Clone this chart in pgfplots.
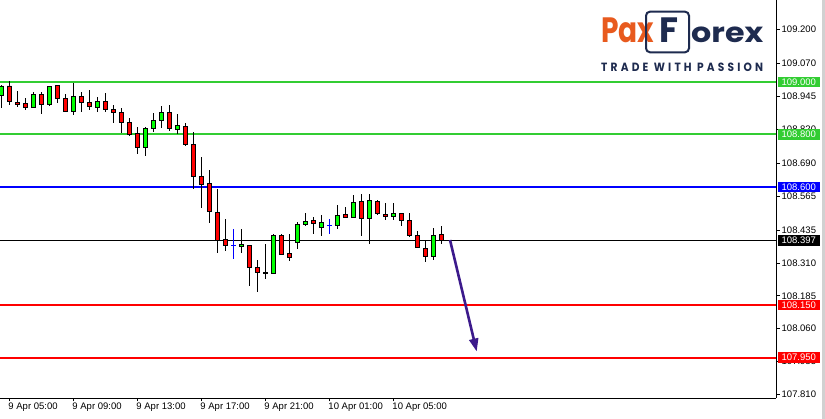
\documentclass[border=0pt]{standalone}
\usepackage{fontspec}
\setmainfont{Liberation Sans}
\newfontfamily\logofont{Poppins}
\usepackage{pgfplots}
\pgfplotsset{compat=1.18}
\usepackage{pgfplotstable}
\usetikzlibrary{arrows.meta}

\definecolor{lvlgreen}{HTML}{32CD32}
\definecolor{upgreen}{HTML}{00FF00}
\definecolor{dnred}{HTML}{FF0000}
\definecolor{lvlblue}{HTML}{0000FF}
\definecolor{arrowpurple}{HTML}{3C1A8C}
\definecolor{paxorange}{HTML}{E85A1E}
\definecolor{paxnavy}{HTML}{1E2B4F}

% 30 min candles, k = half hours after 9 Apr 05:00
\pgfplotstableread{
k  o       h       l       c
-1 108.949 108.989 108.903 108.985
0  108.985 109.004 108.915 108.925
1  108.923 108.966 108.906 108.915
2  108.919 108.942 108.895 108.903
3  108.903 108.961 108.903 108.953
4  108.953 108.964 108.879 108.915
5  108.915 108.983 108.907 108.983
6  108.987 108.990 108.923 108.938
7  108.938 108.953 108.888 108.888
8  108.888 108.996 108.876 108.945
9  108.945 108.964 108.887 108.923
10 108.923 108.970 108.892 108.907
11 108.903 108.942 108.884 108.926
12 108.926 108.957 108.888 108.896
13 108.896 108.911 108.846 108.884
14 108.884 108.901 108.807 108.846
15 108.846 108.862 108.793 108.801
16 108.804 108.827 108.727 108.751
17 108.751 108.831 108.719 108.823
18 108.823 108.884 108.811 108.854
19 108.854 108.911 108.827 108.884
20 108.884 108.911 108.812 108.823
21 108.820 108.877 108.804 108.835
22 108.831 108.846 108.755 108.763
23 108.763 108.812 108.595 108.641
24 108.641 108.717 108.519 108.610
25 108.614 108.667 108.464 108.507
26 108.503 108.592 108.350 108.398
27 108.401 108.478 108.357 108.378
29 108.374 108.440 108.350 108.382
30 108.378 108.378 108.224 108.294
31 108.294 108.321 108.199 108.275
32 108.274 108.383 108.248 108.272
33 108.271 108.420 108.271 108.416
34 108.416 108.420 108.340 108.343
35 108.347 108.420 108.317 108.332
36 108.389 108.465 108.363 108.458
37 108.458 108.500 108.454 108.469
38 108.473 108.484 108.420 108.462
39 108.446 108.496 108.416 108.465
41 108.454 108.530 108.439 108.492
42 108.496 108.526 108.484 108.484
43 108.484 108.572 108.484 108.542
44 108.545 108.572 108.412 108.481
45 108.481 108.572 108.385 108.549
46 108.545 108.549 108.492 108.500
47 108.496 108.542 108.477 108.488
48 108.488 108.542 108.477 108.500
49 108.500 108.503 108.450 108.473
50 108.473 108.500 108.412 108.416
51 108.416 108.435 108.370 108.370
52 108.366 108.397 108.317 108.336
53 108.336 108.443 108.324 108.416
54 108.420 108.450 108.385 108.397
}\candles

% doji candles (drawn in blue)
\pgfplotstableread{
k  p       h       l
28 108.378 108.440 108.324
40 108.454 108.477 108.420
}\dojis

\pgfplotsset{
  chartframe/.style={
    scale only axis, width=776pt, height=398pt,
    at={(0,0)}, anchor=south west,
    xmin=-1.1625, xmax=95.84, ymin=107.796, ymax=109.3124,
  },
}
\tikzset{
  lvl/.style={anchor=west, inner sep=0pt, minimum width=42pt,
    minimum height=10.5pt, text=white, xshift=1.5pt},
}

\begin{document}
\begin{tikzpicture}[font=\fontsize{9.5}{10}\selectfont]
\path[use as bounding box, fill=white] (0,-21pt) rectangle (825pt,398pt);
\fill[black!18] (822pt,-21pt) rectangle (825pt,398pt);

% levels, wicks, axis
\begin{axis}[chartframe,
  axis x line*=bottom, axis y line*=right,
  axis line style={-, black, line width=0.8pt},
  tick align=outside, major tick length=3.5pt,
  tick style={black, line width=0.8pt},
  xtick={0,8,16,24,32,40,48},
  xticklabels={9 Apr 05:00,9 Apr 09:00,9 Apr 13:00,9 Apr 17:00,9 Apr 21:00,10 Apr 01:00,10 Apr 05:00},
  xticklabel style={anchor=north west, inner sep=0pt, xshift=-1pt, yshift=-1pt},
  ytick={107.810,107.935,108.060,108.185,108.310,108.435,108.565,108.690,108.820,108.945,109.070,109.200},
  yticklabels={107.810,107.935,108.060,108.185,108.310,108.435,108.565,108.690,108.820,108.945,109.070,109.200},
  yticklabel style={anchor=west, inner sep=0pt, xshift=2pt},
]
\addplot[lvlgreen, line width=2pt] coordinates {(-1.1625,109.0) (95.84,109.0)};
\addplot[lvlgreen, line width=2pt] coordinates {(-1.1625,108.8) (95.84,108.8)};
\addplot[lvlblue, line width=2pt] coordinates {(-1.1625,108.6) (95.84,108.6)};
\addplot[black, line width=0.8pt] coordinates {(-1.1625,108.397) (95.84,108.397)};
\addplot[dnred, line width=2pt] coordinates {(-1.1625,108.15) (95.84,108.15)};
\addplot[dnred, line width=2pt] coordinates {(-1.1625,107.95) (95.84,107.95)};

\addplot[draw=none, mark=none, error bars/.cd, y dir=both, y explicit,
  error mark=none, error bar style={draw=black, line width=0.8pt}]
  table[x=k, y expr={(\thisrow{h}+\thisrow{l})/2},
    y error plus expr={(\thisrow{h}-\thisrow{l})/2},
    y error minus expr={(\thisrow{h}-\thisrow{l})/2}] {\candles};

\addplot[draw=none, mark=none, error bars/.cd, x dir=both, x fixed=0.32,
  y dir=both, y explicit, error mark=none,
  error bar style={draw=lvlblue, line width=0.8pt}]
  table[x=k, y=p, y error plus expr={\thisrow{h}-\thisrow{p}},
    y error minus expr={\thisrow{p}-\thisrow{l}}] {\dojis};
\end{axis}

% candle bodies
\begin{axis}[chartframe, hide axis, ybar stacked, bar width=4.2pt]
\addplot[draw=none, fill=none] table[x=k, y expr={min(\thisrow{o},\thisrow{c})}] {\candles};
\addplot[fill=dnred, draw=black, line width=0.8pt] table[x=k, y expr={max(\thisrow{o}-\thisrow{c},0)}] {\candles};
\addplot[fill=upgreen, draw=black, line width=0.8pt] table[x=k, y expr={max(\thisrow{c}-\thisrow{o},0)}] {\candles};
\end{axis}

% arrow and price labels
\begin{axis}[chartframe, hide axis, clip=false]
\addplot[arrowpurple, line width=2.6pt, -{Triangle[length=13pt, width=9pt]}]
  coordinates {(55.09,108.398) (58.43,107.973)};
\node[lvl, fill=lvlgreen] at (axis cs:95.84,109.0) {109.000};
\node[lvl, fill=lvlgreen] at (axis cs:95.84,108.8) {108.800};
\node[lvl, fill=lvlblue] at (axis cs:95.84,108.6) {108.600};
\node[lvl, fill=black] at (axis cs:95.84,108.397) {108.397};
\node[lvl, fill=dnred] at (axis cs:95.84,108.15) {108.150};
\node[lvl, fill=dnred] at (axis cs:95.84,107.95) {107.950};
\end{axis}

% logo
\node[anchor=base west, inner sep=0pt, text=paxorange] at (601pt,355.7pt)
  {\resizebox{53pt}{24.7pt}{\logofont\bfseries Pax}};
\draw[paxnavy, line width=2pt, rounded corners=4pt] (646pt,345.7pt) rectangle (689pt,386.3pt);
\node[anchor=base west, inner sep=0pt, text=paxnavy] at (659pt,355.7pt)
  {\resizebox{19pt}{24.7pt}{\logofont\bfseries F}};
\node[anchor=base west, inner sep=0pt, text=paxnavy] at (691pt,355.7pt)
  {\resizebox{72pt}{15.6pt}{\logofont\bfseries orex}};
\node[anchor=base west, inner sep=0pt, text=paxnavy] at (601pt,326pt)
  {\resizebox{162pt}{8.5pt}{\logofont\bfseries\addfontfeature{LetterSpace=30}TRADE WITH PASSION}};
\end{tikzpicture}
\end{document}
